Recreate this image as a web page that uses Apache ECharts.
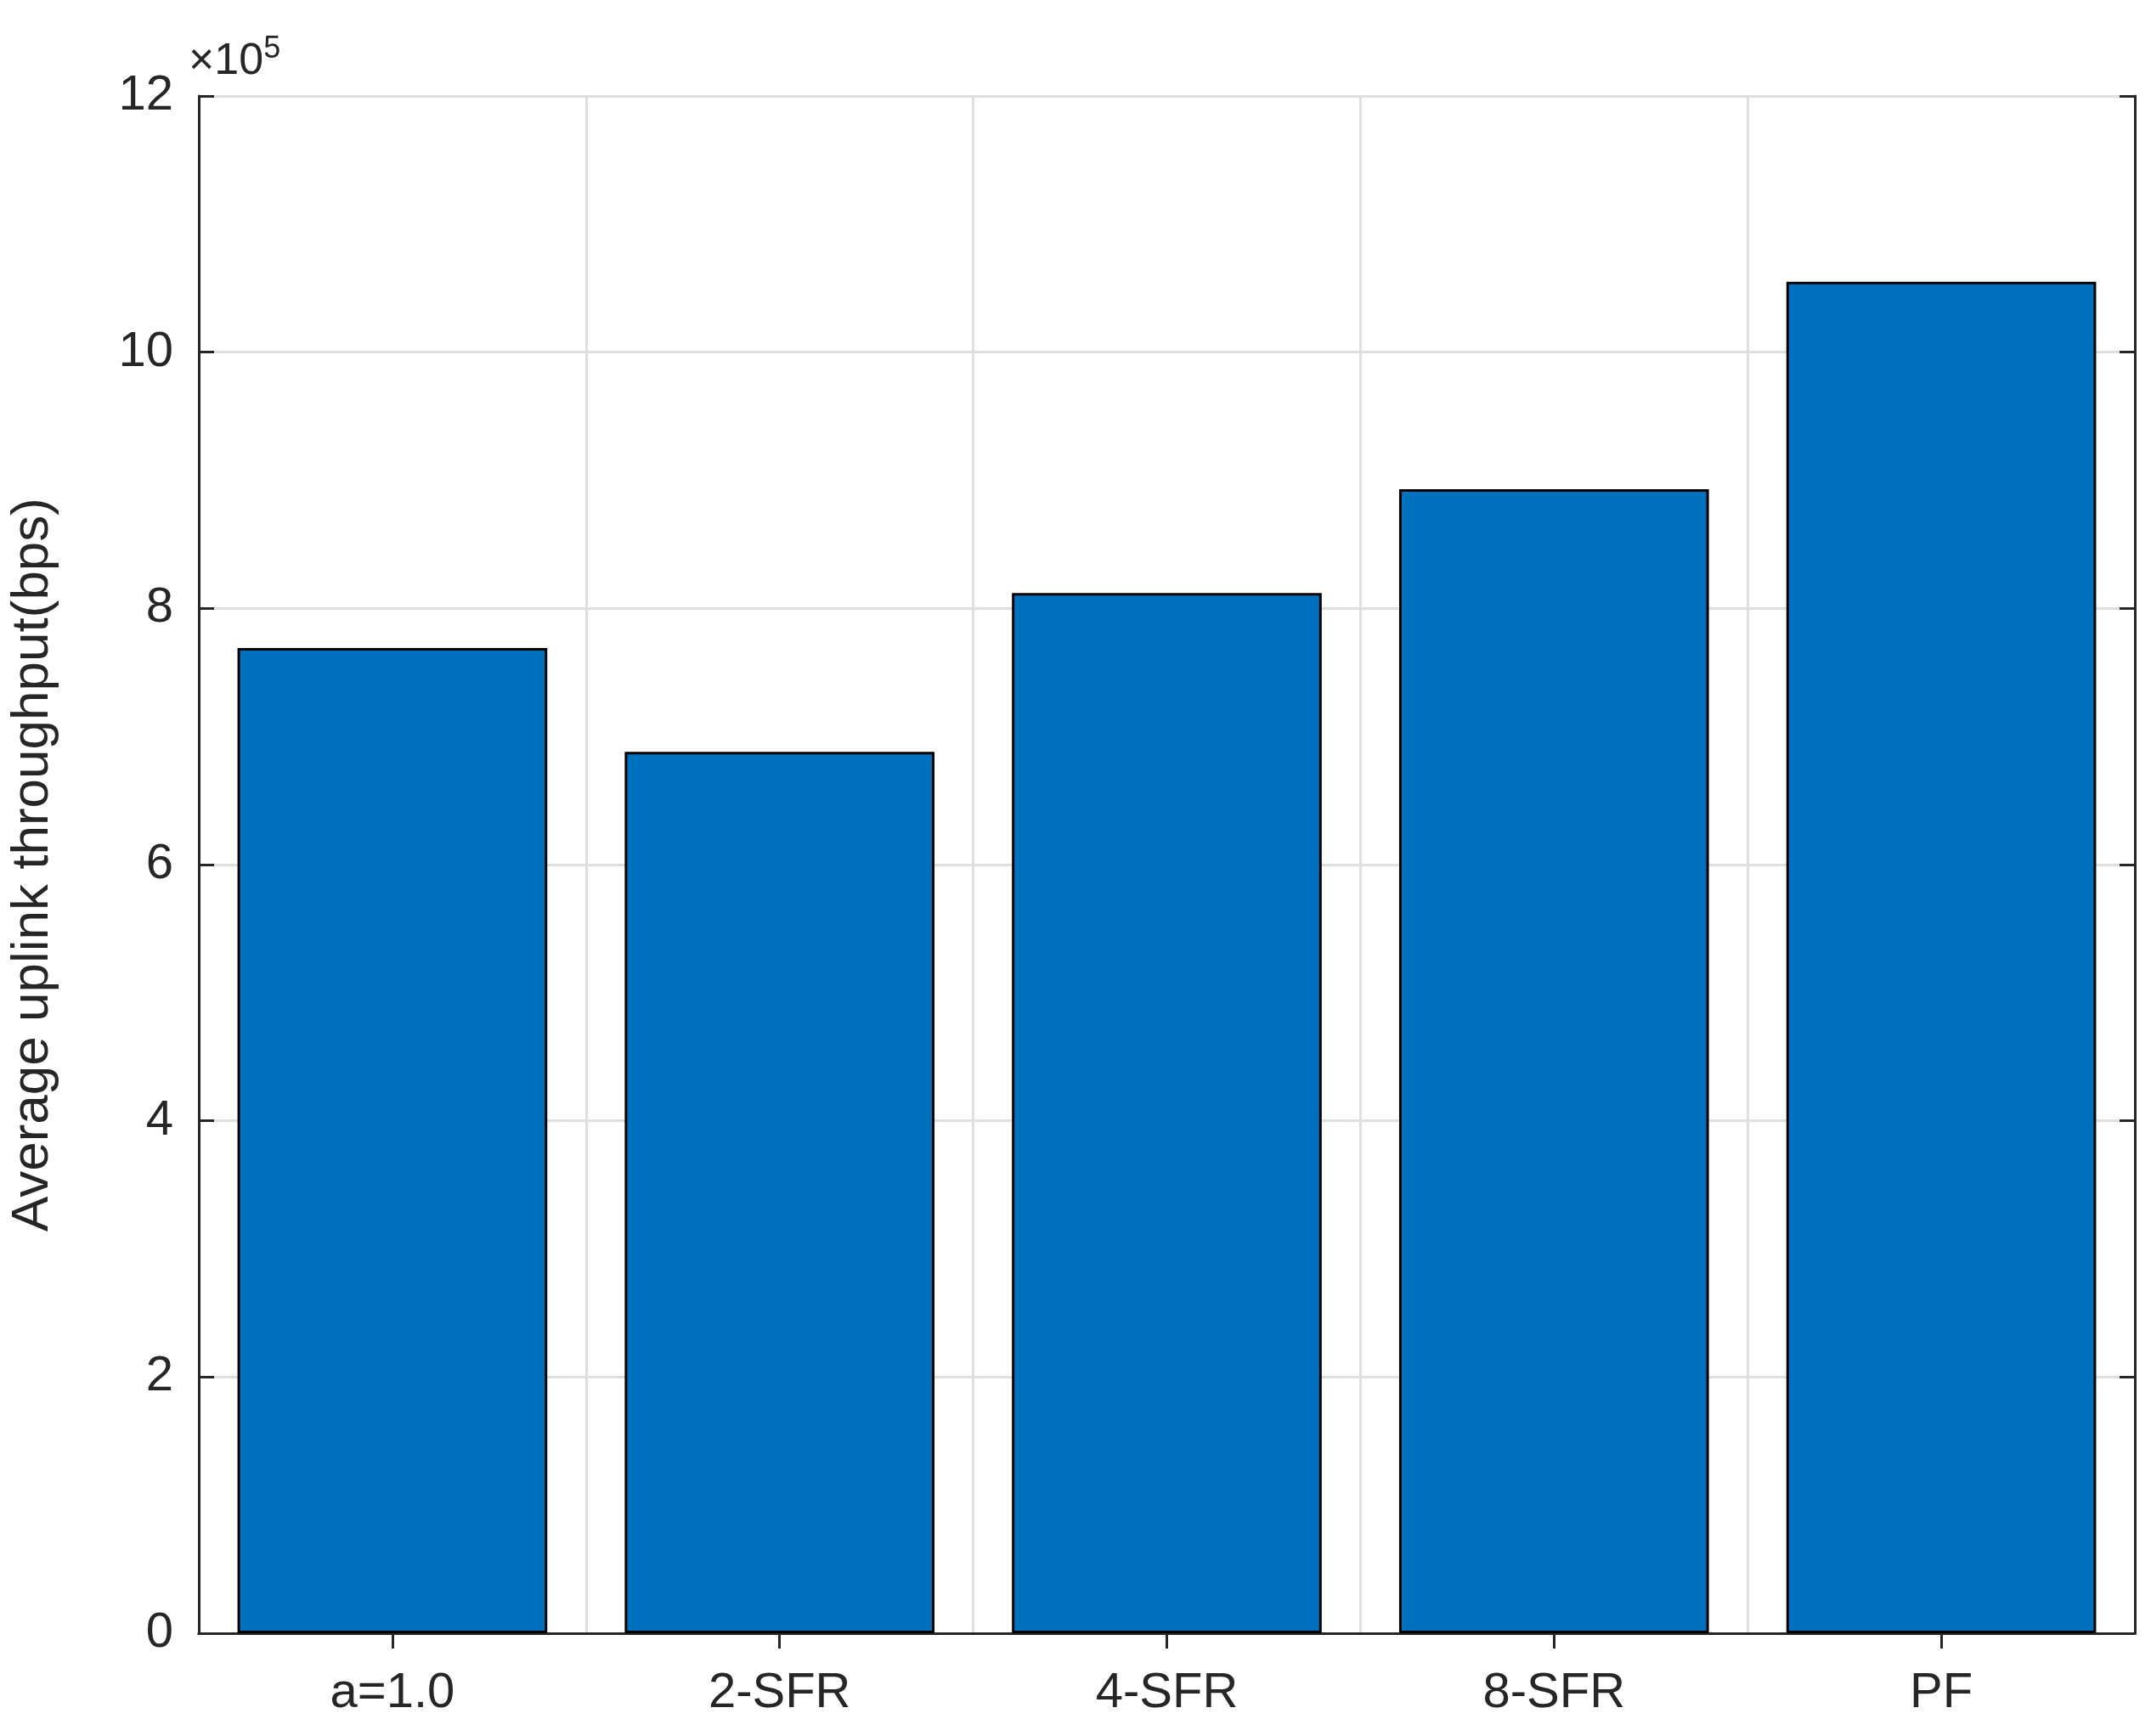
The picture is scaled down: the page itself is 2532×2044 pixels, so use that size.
<!DOCTYPE html>
<html><head><meta charset="utf-8">
<script src="https://cdn.jsdelivr.net/npm/echarts@6/dist/echarts.min.js"></script>
<style>html,body{margin:0;padding:0;background:#fff}#c{width:2532px;height:2044px}</style>
</head><body><div id="c"></div>
<script>
const categories = ['a=1.0','2-SFR','4-SFR','8-SFR','PF'];
const throughput = [769000, 688000, 812000, 893000, 1055000];
const yTicks = [0,2,4,6,8,10,12];

const chart = echarts.init(document.getElementById('c'));
const font = 'Arial, "Liberation Sans", sans-serif';
const axisLine = {show:true, lineStyle:{color:'#262626', width:3}};
chart.setOption({
  backgroundColor:'#fff',
  animation:false,
  grid:{left:221, right:19, top:113, bottom:121, containLabel:false},
  xAxis:[{
    type:'category', data:categories, boundaryGap:true,
    axisLine, axisTick:{show:true, inside:true, alignWithLabel:true, length:18, lineStyle:{color:'#262626',width:3}},
    axisLabel:{fontSize:58, color:'#262626', fontFamily:font, margin:42},
    splitLine:{show:true, interval:0, lineStyle:{color:'#dfdfdf', width:3}}
  },{
    type:'category', data:categories, position:'top', boundaryGap:true,
    axisLine, axisTick:{show:true, inside:true, alignWithLabel:true, length:18, lineStyle:{color:'#262626',width:3}},
    axisLabel:{show:false}, splitLine:{show:false}
  }],
  yAxis:[{
    type:'value', min:0, max:1200000, interval:200000,
    name:'Average uplink throughput(bps)', nameLocation:'middle', nameGap:164,
    nameTextStyle:{fontSize:62, color:'#262626', fontFamily:font},
    axisLine, axisTick:{show:true, inside:true, length:18, lineStyle:{color:'#262626',width:3}},
    axisLabel:{fontSize:58, color:'#262626', fontFamily:font, margin:30, formatter:v=>String(v/1e5)},
    splitLine:{show:true, lineStyle:{color:'#dfdfdf', width:3}}
  },{
    type:'value', min:0, max:1200000, interval:200000, position:'right',
    axisLine, axisTick:{show:true, inside:true, length:18, lineStyle:{color:'#262626',width:3}},
    axisLabel:{show:false}, splitLine:{show:false}
  }],
  graphic:[{
    type:'text', left:222, top:40,
    style:{text:'{a|×10}{s|5}', rich:{a:{fontSize:52, fill:'#262626', fontFamily:font}, s:{fontSize:36, fill:'#262626', fontFamily:font, verticalAlign:'top', padding:[0,0,30,0]}}}
  }],
  series:[{
    type:'bar', data:throughput, barWidth:'80%',
    itemStyle:{color:'#0072bd', borderColor:'#000', borderWidth:3}
  }]
});
</script></body></html>
